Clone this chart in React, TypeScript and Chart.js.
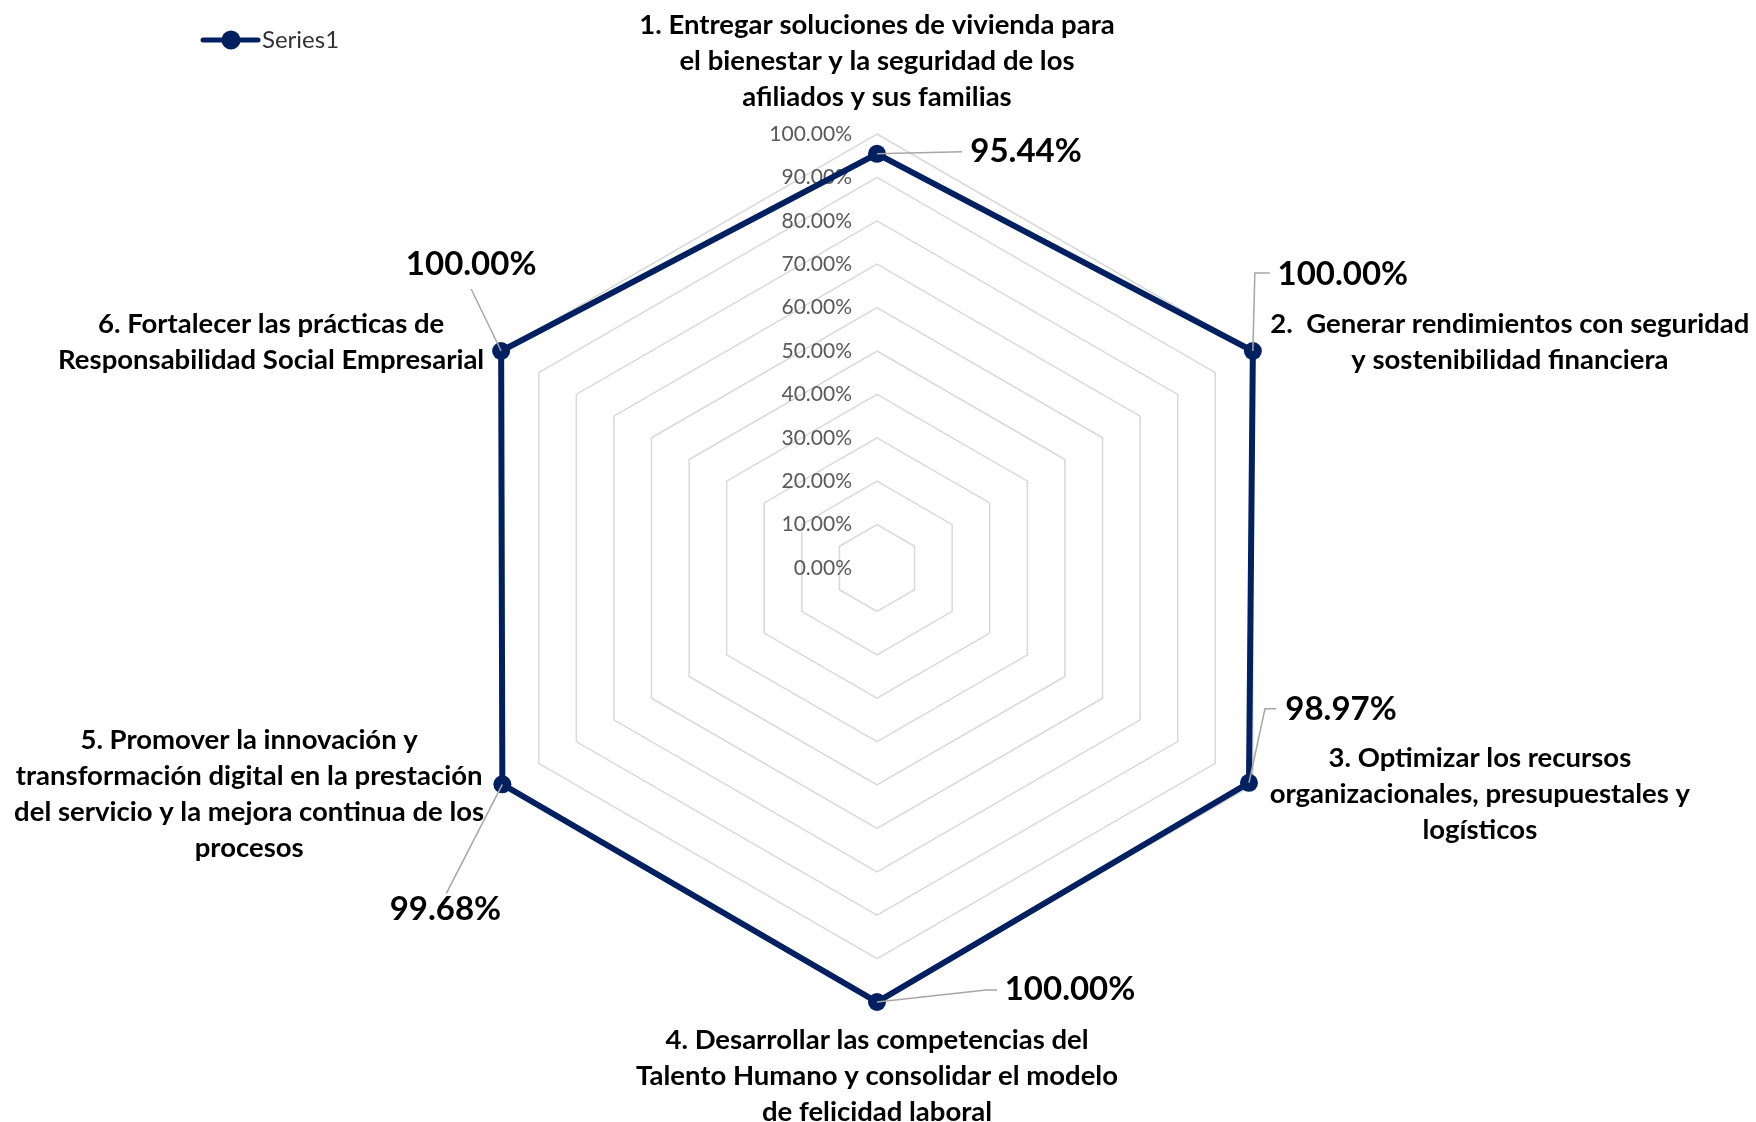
import React, { useEffect, useRef } from "react";
import { Chart, registerables } from "chart.js";

Chart.register(...registerables);

// ---------- data ----------
const CATEGORIES: string[][] = [
  ["1. Entregar soluciones de vivienda para", "el bienestar y la seguridad de los", "afiliados y sus familias"],
  ["2.  Generar rendimientos con seguridad", "y sostenibilidad financiera"],
  ["3. Optimizar los recursos", "organizacionales, presupuestales y", "logísticos"],
  ["4. Desarrollar las competencias del", "Talento Humano y consolidar el modelo", "de felicidad laboral"],
  ["5. Promover la innovación y", "transformación digital en la prestación", "del servicio y la mejora continua de los", "procesos"],
  ["6. Fortalecer las prácticas de", "Responsabilidad Social Empresarial"],
];
const SERIES_NAME = "Series1";
const SERIES_VALUES = [95.44, 100, 98.97, 100, 99.68, 100];
const TICK_LABELS = ["0.00%", "10.00%", "20.00%", "30.00%", "40.00%", "50.00%", "60.00%", "70.00%", "80.00%", "90.00%", "100.00%"];
const AXIS_MIN = 0;
const AXIS_MAX = 100;
const AXIS_STEP = 10;

// ---------- layout / style ----------
const W = 1756;
const H = 1122;
const LINE_COLOR = "#002060";
const GRID_COLOR = "#d9d9d9";
const LEADER_COLOR = "#a6a6a6";
const FONT = "Lato, 'Open Sans', sans-serif";
// category label block centre, relative to the 100% vertex of each axis
const CAT_OFFSETS: [number, number][] = [[0, -73], [257, -9], [227, 9], [0, 74], [-252, 9], [-230, -9]];
const CAT_LINE_H = 36;
// value label centre, relative to the data point
const VAL_OFFSETS: [number, number][] = [[149, -2], [90, -77], [92, -73], [193, -13], [-57, 125], [-30, -87]];
// leader polyline vertices, relative to the data point
const LEADERS: [number, number][][] = [
  [[85, -2]],
  [[2, -78], [17, -78]],
  [[16, -74], [27, -74]],
  [[109, -12], [120, -12]],
  [[-56, 109]],
  [[-30, -62]],
];

const overlayPlugin = {
  id: "overlay",
  beforeDatasetsDraw(chart: any) {
    const ctx = chart.ctx as CanvasRenderingContext2D;
    const scale = chart.scales.r;
    ctx.save();
    // tick labels
    ctx.font = `21px ${FONT}`;
    ctx.fillStyle = "#595959";
    ctx.textAlign = "right";
    ctx.textBaseline = "middle";
    scale.ticks.forEach((t: any, i: number) => {
      const d = scale.getDistanceFromCenterForValue(t.value);
      ctx.fillText(TICK_LABELS[i] ?? String(t.label), scale.xCenter - 25, scale.yCenter - d);
    });
    // category labels
    ctx.font = `bold 27.5px ${FONT}`;
    ctx.fillStyle = "#000000";
    ctx.textAlign = "center";
    ctx.textBaseline = "middle";
    (chart.data.labels as string[][]).forEach((lines, i) => {
      const p = scale.getPointPosition(i, scale.drawingArea);
      const cx = p.x + CAT_OFFSETS[i][0];
      const cy = p.y + CAT_OFFSETS[i][1];
      const n = lines.length;
      lines.forEach((line, k) => {
        ctx.fillText(line, cx, cy + (k - (n - 1) / 2) * CAT_LINE_H);
      });
    });
    ctx.restore();
  },
  afterDatasetsDraw(chart: any) {
    const ctx = chart.ctx as CanvasRenderingContext2D;
    const meta = chart.getDatasetMeta(0);
    const values = chart.data.datasets[0].data as number[];
    ctx.save();
    meta.data.forEach((pt: any, i: number) => {
      // leader line
      ctx.strokeStyle = LEADER_COLOR;
      ctx.lineWidth = 1.5;
      ctx.beginPath();
      ctx.moveTo(pt.x, pt.y);
      LEADERS[i].forEach(([dx, dy]) => ctx.lineTo(pt.x + dx, pt.y + dy));
      ctx.stroke();
    });
    meta.data.forEach((pt: any, i: number) => {
      ctx.font = `bold 33px ${FONT}`;
      ctx.fillStyle = "#000000";
      ctx.textAlign = "center";
      ctx.textBaseline = "middle";
      ctx.fillText(values[i].toFixed(2) + "%", pt.x + VAL_OFFSETS[i][0], pt.y + VAL_OFFSETS[i][1]);
    });
    // legend
    const ds = chart.data.datasets[0];
    ctx.strokeStyle = ds.borderColor;
    ctx.lineWidth = 5;
    ctx.lineCap = "round";
    ctx.beginPath();
    ctx.moveTo(203, 40);
    ctx.lineTo(258, 40);
    ctx.stroke();
    ctx.fillStyle = ds.borderColor;
    ctx.beginPath();
    ctx.arc(231, 40, 9.5, 0, Math.PI * 2);
    ctx.fill();
    ctx.font = `24px ${FONT}`;
    ctx.fillStyle = "#333333";
    ctx.textAlign = "left";
    ctx.textBaseline = "middle";
    ctx.fillText(ds.label, 262, 40);
    ctx.restore();
  },
};

export default function App() {
  const ref = useRef<HTMLCanvasElement | null>(null);
  useEffect(() => {
    document.body.style.margin = "0";
    const canvas = ref.current;
    if (!canvas) return;
    const chart = new Chart(canvas, {
      type: "radar",
      data: {
        labels: CATEGORIES,
        datasets: [
          {
            label: SERIES_NAME,
            data: SERIES_VALUES,
            borderColor: LINE_COLOR,
            backgroundColor: "transparent",
            fill: false,
            borderWidth: 6,
            pointRadius: 9,
            pointBackgroundColor: LINE_COLOR,
            pointBorderColor: LINE_COLOR,
            pointBorderWidth: 0,
            tension: 0,
          },
        ],
      },
      options: {
        responsive: false,
        animation: false,
        devicePixelRatio: 1,
        layout: { padding: { left: 443, right: 445, top: 134, bottom: 120 } },
        plugins: { legend: { display: false }, tooltip: { enabled: false } },
        scales: {
          r: {
            min: AXIS_MIN,
            max: AXIS_MAX,
            ticks: { stepSize: AXIS_STEP, display: false, callback: (_v: any, i: number) => TICK_LABELS[i] },
            grid: { color: GRID_COLOR, lineWidth: 1.5 },
            angleLines: { display: false },
            pointLabels: { display: false },
          },
        },
      },
      plugins: [overlayPlugin],
    });
    (document as any).fonts?.ready?.then(() => chart.update());
    return () => chart.destroy();
  }, []);
  return (
    <div style={{ width: W, height: H, overflow: "hidden", background: "#fff" }}>
      <canvas ref={ref} width={W} height={H} style={{ display: "block" }} />
    </div>
  );
}
